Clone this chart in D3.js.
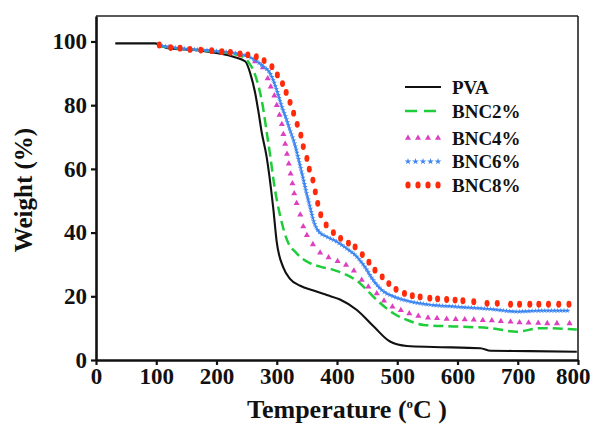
<!DOCTYPE html>
<html>
<head>
<meta charset="utf-8">
<script src="https://cdn.jsdelivr.net/npm/d3@7"></script>
<style>
    body { margin: 0; background: #fff; }
    text { font-family: "Liberation Serif", "DejaVu Serif", serif; font-weight: bold; fill: #111; }
</style>
</head>
<body>
<div id="chart"></div>
<script>
// ---- data ----
let pvaT = [32, 98, 117, 173, 228, 248, 256, 264, 270, 275, 283, 294, 300, 311, 322, 339, 361, 383, 405, 433, 461, 488, 516, 560, 638, 655, 720, 798]
let pvaW = [99.4, 99.4, 98, 97.1, 95.2, 93.7, 90, 84, 77.5, 71.5, 64, 48, 37, 29, 25.5, 23.3, 21.8, 20.4, 19, 15.7, 10.5, 5.8, 4.4, 4.1, 3.7, 2.9, 2.8, 2.6]

let bnc2T = [105, 150, 200, 240, 255, 261, 270, 277, 283, 290, 295, 306, 317, 333, 355, 372, 394, 416, 438, 455, 472, 494, 516, 544, 600, 655, 699, 738, 798]
let bnc2W = [98.5, 97.6, 96.8, 95.5, 93, 91, 85.8, 79.5, 72, 63, 56, 45, 37.7, 33.5, 30.4, 29.3, 28.3, 26.7, 24.1, 20.9, 17.8, 14.6, 12.6, 11, 10.5, 10, 8.9, 10, 9.6]

let bnc4T = [264, 277, 285, 290, 296, 300, 304.5, 308.5, 311, 314, 317, 320, 323, 326, 329, 333, 339, 344, 350, 360, 372, 386, 401, 415, 428, 441, 452, 466, 478, 492, 506, 520, 535, 551, 566, 582, 597, 612, 627, 642, 657, 672, 688, 703, 718, 734, 749, 765, 786]
let bnc4W = [93.7, 91.8, 88.4, 85.8, 83, 80, 76.9, 74, 70.9, 67.8, 64.7, 61.6, 58.5, 55.4, 52.3, 49.2, 45.6, 41.9, 39.2, 36.3, 33.7, 32.2, 31, 29.8, 28, 25.1, 23, 20.9, 18.6, 16.7, 15.6, 14.6, 13.8, 13.3, 13.1, 12.9, 12.8, 12.7, 12.6, 12.5, 12.4, 12.2, 12, 11.8, 11.7, 11.6, 11.5, 11.5, 11.5]

let bnc6T = [105, 150, 200, 240, 261, 278, 289, 300, 308.5, 316.6, 322, 328, 335, 342, 350, 356, 361, 369, 383, 400, 416, 433, 446, 460, 474, 494, 516, 544, 600, 655, 699, 738, 786]
let bnc6W = [98.7, 97.7, 97, 96, 94.5, 92.1, 90, 84.8, 79.5, 75.4, 72.2, 69, 64, 58.5, 52, 47.5, 43.8, 40.5, 38.7, 37.1, 35, 32.4, 29.3, 25.1, 22, 19.9, 18.6, 17.6, 16.7, 16, 15.2, 15.5, 15.5]

let bnc8T = [105, 124, 139.5, 156, 174, 192, 209, 223, 239, 252, 266, 279, 292, 301, 309.5, 315.6, 322, 328, 334, 340, 344, 350, 354, 360, 364, 368, 373, 382, 394, 406, 419, 430, 442, 453, 463, 475, 486, 498, 512, 525, 538, 554, 567, 582, 596, 609, 627, 649, 666, 688, 703, 720, 735, 751, 768, 785]
let bnc8W = [98.9, 98.1, 97.9, 97.5, 97.3, 97.1, 96.8, 96.6, 96.1, 95.8, 95.2, 94, 92.1, 89.5, 86.8, 84, 80.9, 77.5, 74, 70.6, 67, 63.3, 59.9, 56.5, 52.8, 49.2, 45.6, 42.4, 40, 38.2, 36.7, 35.5, 33.1, 30.7, 28.2, 26.1, 24, 22.2, 20.9, 20.2, 19.8, 19.4, 19.2, 19, 18.8, 18.6, 18.3, 17.8, 17.8, 17.5, 17.5, 17.5, 17.5, 17.5, 17.5, 17.5]

let legendNames = ["PVA", "BNC2%", "BNC4%", "BNC6%", "BNC8%"]
let xTicks = [0, 100, 200, 300, 400, 500, 600, 700, 800]
let yTicks = [0, 20, 40, 60, 80, 100]

const colors = {pva: "#111111", bnc2: "#1fcc3a", bnc4: "#dd3fc0", bnc6: "#3d86f2", bnc8: "#ff2a0a"}
const serif = "'Liberation Serif', 'DejaVu Serif', serif"

function zip(ts, ws) { return ts.map(function(t, i) { return {t: t, w: ws[i]} }) }

const W = 591, H = 433
const margin = {top: 16, right: 13, bottom: 73, left: 96}

const svg = d3.select("#chart").append("svg")
    .attr("width", W)
    .attr("height", H)

const x = d3.scaleLinear().domain([0, 800]).range([margin.left, W - margin.right])
const y = d3.scaleLinear().domain([0, 108]).range([H - margin.bottom, margin.top])

const line = d3.line()
    .x(function(d) { return x(d.t) })
    .y(function(d) { return y(d.w) })
    .curve(d3.curveMonotoneX)

// frame (top + right are thinner)
svg.append("line")
    .attr("x1", x(0)).attr("x2", x.range()[1])
    .attr("y1", y(108)).attr("y2", y(108))
    .attr("stroke", "#222").attr("stroke-width", 1.6)
svg.append("line")
    .attr("x1", x.range()[1]).attr("x2", x.range()[1])
    .attr("y1", y(108)).attr("y2", y(0))
    .attr("stroke", "#222").attr("stroke-width", 1.6)

// PVA
svg.append("path")
    .datum(zip(pvaT, pvaW))
    .attr("d", line)
    .attr("fill", "none")
    .attr("stroke", colors.pva)
    .attr("stroke-width", 2.1)

// BNC2%
svg.append("path")
    .datum(zip(bnc2T, bnc2W))
    .attr("d", line)
    .attr("fill", "none")
    .attr("stroke", colors.bnc2)
    .attr("stroke-width", 2.5)
    .attr("stroke-dasharray", "10,5")

// BNC4% triangles
svg.append("g").selectAll("path")
    .data(zip(bnc4T, bnc4W))
    .enter().append("path")
    .attr("d", d3.symbol().type(d3.symbolTriangle).size(16))
    .attr("transform", function(d) { return "translate(" + x(d.t) + "," + y(d.w) + ")" })
    .attr("fill", colors.bnc4)

// BNC6% - thin line with tiny stars packed along it
let bnc6Path = svg.append("path")
    .datum(zip(bnc6T, bnc6W))
    .attr("d", line)
    .attr("fill", "none")
    .attr("stroke", colors.bnc6)
    .attr("stroke-width", 1.3)
let len = bnc6Path.node().getTotalLength()
let starPts = d3.range(0, len, 3.2).map(function(l) { return bnc6Path.node().getPointAtLength(l) })
svg.append("g").selectAll("path")
    .data(starPts)
    .enter().append("path")
    .attr("d", d3.symbol().type(d3.symbolStar).size(9))
    .attr("transform", function(p) { return "translate(" + p.x + "," + p.y + ")" })
    .attr("fill", colors.bnc6)

// BNC8% dots
svg.append("g").selectAll("ellipse")
    .data(zip(bnc8T, bnc8W))
    .enter().append("ellipse")
    .attr("cx", function(d) { return x(d.t) })
    .attr("cy", function(d) { return y(d.w) })
    .attr("rx", 2.5)
    .attr("ry", 3.4)
    .attr("fill", colors.bnc8)

// axes
let xAxis = svg.append("g")
    .attr("transform", "translate(0," + y(0) + ")")
    .call(d3.axisBottom(x).tickValues(xTicks).tickSize(5).tickSizeOuter(0).tickPadding(3))
let yAxis = svg.append("g")
    .attr("transform", "translate(" + x(0) + ",0)")
    .call(d3.axisLeft(y).tickValues(yTicks).tickSize(5).tickSizeOuter(0).tickPadding(4))

;[xAxis, yAxis].forEach(function(a) {
    a.attr("font-family", serif)
    a.select(".domain").attr("stroke", "#111").attr("stroke-width", 2.6)
    a.selectAll(".tick line").attr("stroke", "#111").attr("stroke-width", 2.2)
    a.selectAll(".tick text")
        .style("font-family", serif)
        .style("font-weight", "bold")
        .style("font-size", "23px")
        .attr("fill", "#111")
})
// last x label sits against the right edge of the picture
xAxis.selectAll(".tick text")
    .filter(function(d) { return d === 800 })
    .attr("text-anchor", "end")
    .attr("x", W - 1 - x(800))

// axis titles
let xt = svg.append("text")
    .attr("x", 347)
    .attr("y", 418)
    .attr("text-anchor", "middle")
    .style("font-size", "26px")
xt.append("tspan").text("Temperature (")
xt.append("tspan").text("o").attr("dy", -10).style("font-size", "13px")
xt.append("tspan").text("C )").attr("dy", 10)

svg.append("text")
    .attr("transform", "translate(32,190) rotate(-90)")
    .attr("text-anchor", "middle")
    .style("font-size", "25px")
    .text("Weight (%)")

// legend
let legendY = [87, 111, 138, 161.5, 185]
let lg = svg.append("g")
legendNames.forEach(function(name, i) {
    let ly = legendY[i]
    if (i === 0) {
        lg.append("line").attr("x1", 405).attr("x2", 441).attr("y1", ly).attr("y2", ly)
            .attr("stroke", colors.pva).attr("stroke-width", 2.2)
    } else if (i === 1) {
        lg.append("line").attr("x1", 405).attr("x2", 441).attr("y1", ly).attr("y2", ly)
            .attr("stroke", colors.bnc2).attr("stroke-width", 2.5).attr("stroke-dasharray", "12,7")
    } else if (i === 2) {
        d3.range(4).forEach(function(k) {
            lg.append("path").attr("d", d3.symbol().type(d3.symbolTriangle).size(16))
                .attr("transform", "translate(" + (408 + k * 10) + "," + ly + ")")
                .attr("fill", colors.bnc4)
        })
    } else if (i === 3) {
        d3.range(5).forEach(function(k) {
            lg.append("path").attr("d", d3.symbol().type(d3.symbolStar).size(14))
                .attr("transform", "translate(" + (408 + k * 7.5) + "," + ly + ")")
                .attr("fill", colors.bnc6)
        })
    } else {
        d3.range(4).forEach(function(k) {
            lg.append("ellipse").attr("cx", 408 + k * 10).attr("cy", ly)
                .attr("rx", 2.6).attr("ry", 3.5).attr("fill", colors.bnc8)
        })
    }
    lg.append("text")
        .attr("x", 452)
        .attr("y", ly + 6.5)
        .style("font-size", "19px")
        .text(name)
})
</script>
</body>
</html>
